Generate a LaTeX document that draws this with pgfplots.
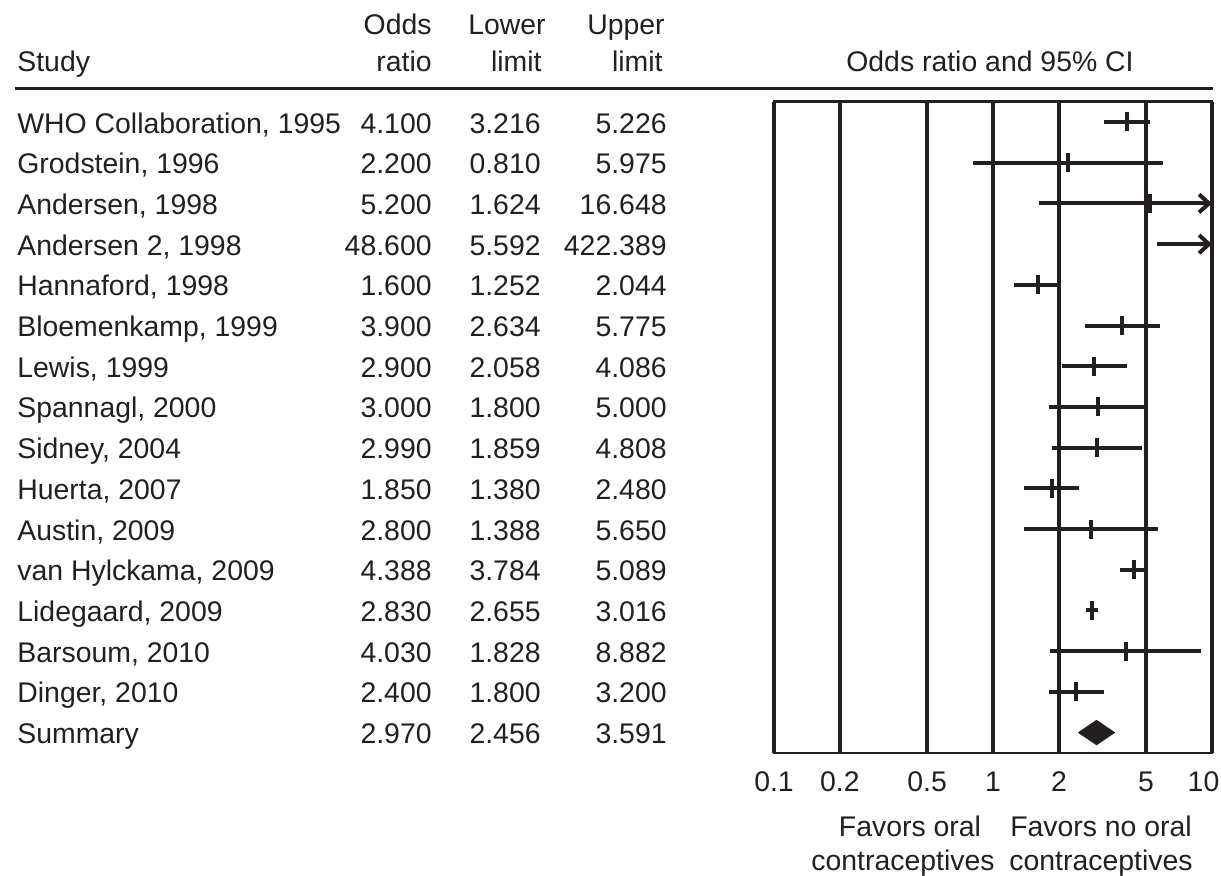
\documentclass[border=0pt]{standalone}
\usepackage{fontspec}
\setmainfont{Liberation Sans}
\usepackage{pgfplots}
\pgfplotsset{compat=1.18}
\usetikzlibrary{arrows.meta}
\definecolor{ink}{HTML}{231F20}

\begin{document}
\begin{tikzpicture}[x=0.5pt,y=-0.5pt,font=\fontsize{14.2}{16}\selectfont,text=ink,
  every node/.style={inner sep=0pt}]
\useasboundingbox (0,0) rectangle (1221,875);

% column headings
\node[anchor=base west] at (17,71) {Study};
\node[anchor=base east] at (432,34) {Odds};
\node[anchor=base east] at (432,71) {ratio};
\node[anchor=base east] at (546,34) {Lower};
\node[anchor=base east] at (542,71) {limit};
\node[anchor=base east] at (665,34) {Upper};
\node[anchor=base east] at (663,71) {limit};
\node[anchor=base] at (990,71) {Odds ratio and 95\% CI};
\draw[ink, line width=1.5pt] (15,88) -- (1213,88);

% study table
\foreach \study/\vor/\vlo/\vhi [count=\i from 0] in {
  {WHO Collaboration, 1995}/4.100/3.216/5.226,
  {Grodstein, 1996}/2.200/0.810/5.975,
  {Andersen, 1998}/5.200/1.624/16.648,
  {Andersen 2, 1998}/48.600/5.592/422.389,
  {Hannaford, 1998}/1.600/1.252/2.044,
  {Bloemenkamp, 1999}/3.900/2.634/5.775,
  {Lewis, 1999}/2.900/2.058/4.086,
  {Spannagl, 2000}/3.000/1.800/5.000,
  {Sidney, 2004}/2.990/1.859/4.808,
  {Huerta, 2007}/1.850/1.380/2.480,
  {Austin, 2009}/2.800/1.388/5.650,
  {van Hylckama, 2009}/4.388/3.784/5.089,
  {Lidegaard, 2009}/2.830/2.655/3.016,
  {Barsoum, 2010}/4.030/1.828/8.882,
  {Dinger, 2010}/2.400/1.800/3.200,
  Summary/2.970/2.456/3.591} {
  \node[anchor=base west] at (17,133+40.7*\i) {\study};
  \node[anchor=base east] at (432,133+40.7*\i) {\vor};
  \node[anchor=base east] at (541,133+40.7*\i) {\vlo};
  \node[anchor=base east] at (667,133+40.7*\i) {\vhi};
}

% direction captions
\node[anchor=base] at (910,836) {Favors oral};
\node[anchor=base] at (903,870) {contraceptives};
\node[anchor=base] at (1101,836) {Favors no oral};
\node[anchor=base] at (1101,870) {contraceptives};

\begin{axis}[
  at={(387pt,-376.45pt)}, anchor=south west,
  scale only axis, width=219pt, height=325.65pt,
  xmode=log, xmin=0.1, xmax=10,
  ymin=-0.5, ymax=15.5, y dir=reverse,
  xtick={0.1,0.2,0.5,1,2,5,10},
  xticklabels={0.1,0.2,0.5,1,2,5,\hspace*{-8.5pt}10},
  minor xtick={}, ytick=\empty,
  major tick length=0pt, minor tick length=0pt,
  xmajorgrids, major grid style={ink, line width=2.2pt},
  axis line style={ink, line width=1.3pt},
  xticklabel style={anchor=base, yshift=-19.5pt, inner sep=0pt,
    text=ink, font=\fontsize{14.2}{16}\selectfont},
  clip marker paths=true,
  ci/.style={ink, line width=2pt, no marks, solid},
  offscale/.style={ci, -{Straight Barb[length=5pt,width=9pt]}},
]
% 95% confidence intervals (limits beyond 10 run to the edge with an arrow)
\addplot[ci] coordinates {(3.216,0) (5.226,0)};
\addplot[ci] coordinates {(0.810,1) (5.975,1)};
\addplot[offscale] coordinates {(1.624,2) (10,2)};
\addplot[offscale] coordinates {(5.592,3) (10,3)};
\addplot[ci] coordinates {(1.252,4) (2.044,4)};
\addplot[ci] coordinates {(2.634,5) (5.775,5)};
\addplot[ci] coordinates {(2.058,6) (4.086,6)};
\addplot[ci] coordinates {(1.800,7) (5.000,7)};
\addplot[ci] coordinates {(1.859,8) (4.808,8)};
\addplot[ci] coordinates {(1.380,9) (2.480,9)};
\addplot[ci] coordinates {(1.388,10) (5.650,10)};
\addplot[ci] coordinates {(3.784,11) (5.089,11)};
\addplot[ci] coordinates {(2.655,12) (3.016,12)};
\addplot[ci] coordinates {(1.828,13) (8.882,13)};
\addplot[ci] coordinates {(1.800,14) (3.200,14)};
% point estimates
\addplot[ink, only marks, mark=|, mark size=4.75pt, mark options={line width=2pt}]
  coordinates {(4.100,0) (2.200,1) (5.200,2) (48.600,3) (1.600,4) (3.900,5)
    (2.900,6) (3.000,7) (2.990,8) (1.850,9) (2.800,10) (4.388,11)
    (2.830,12) (4.030,13) (2.400,14)};
% pooled estimate
\addplot[fill=ink, draw=ink, line width=0.4pt, no marks]
  coordinates {(2.456,15) (2.970,14.7) (3.591,15) (2.970,15.3) (2.456,15)};
\end{axis}
\end{tikzpicture}
\end{document}
